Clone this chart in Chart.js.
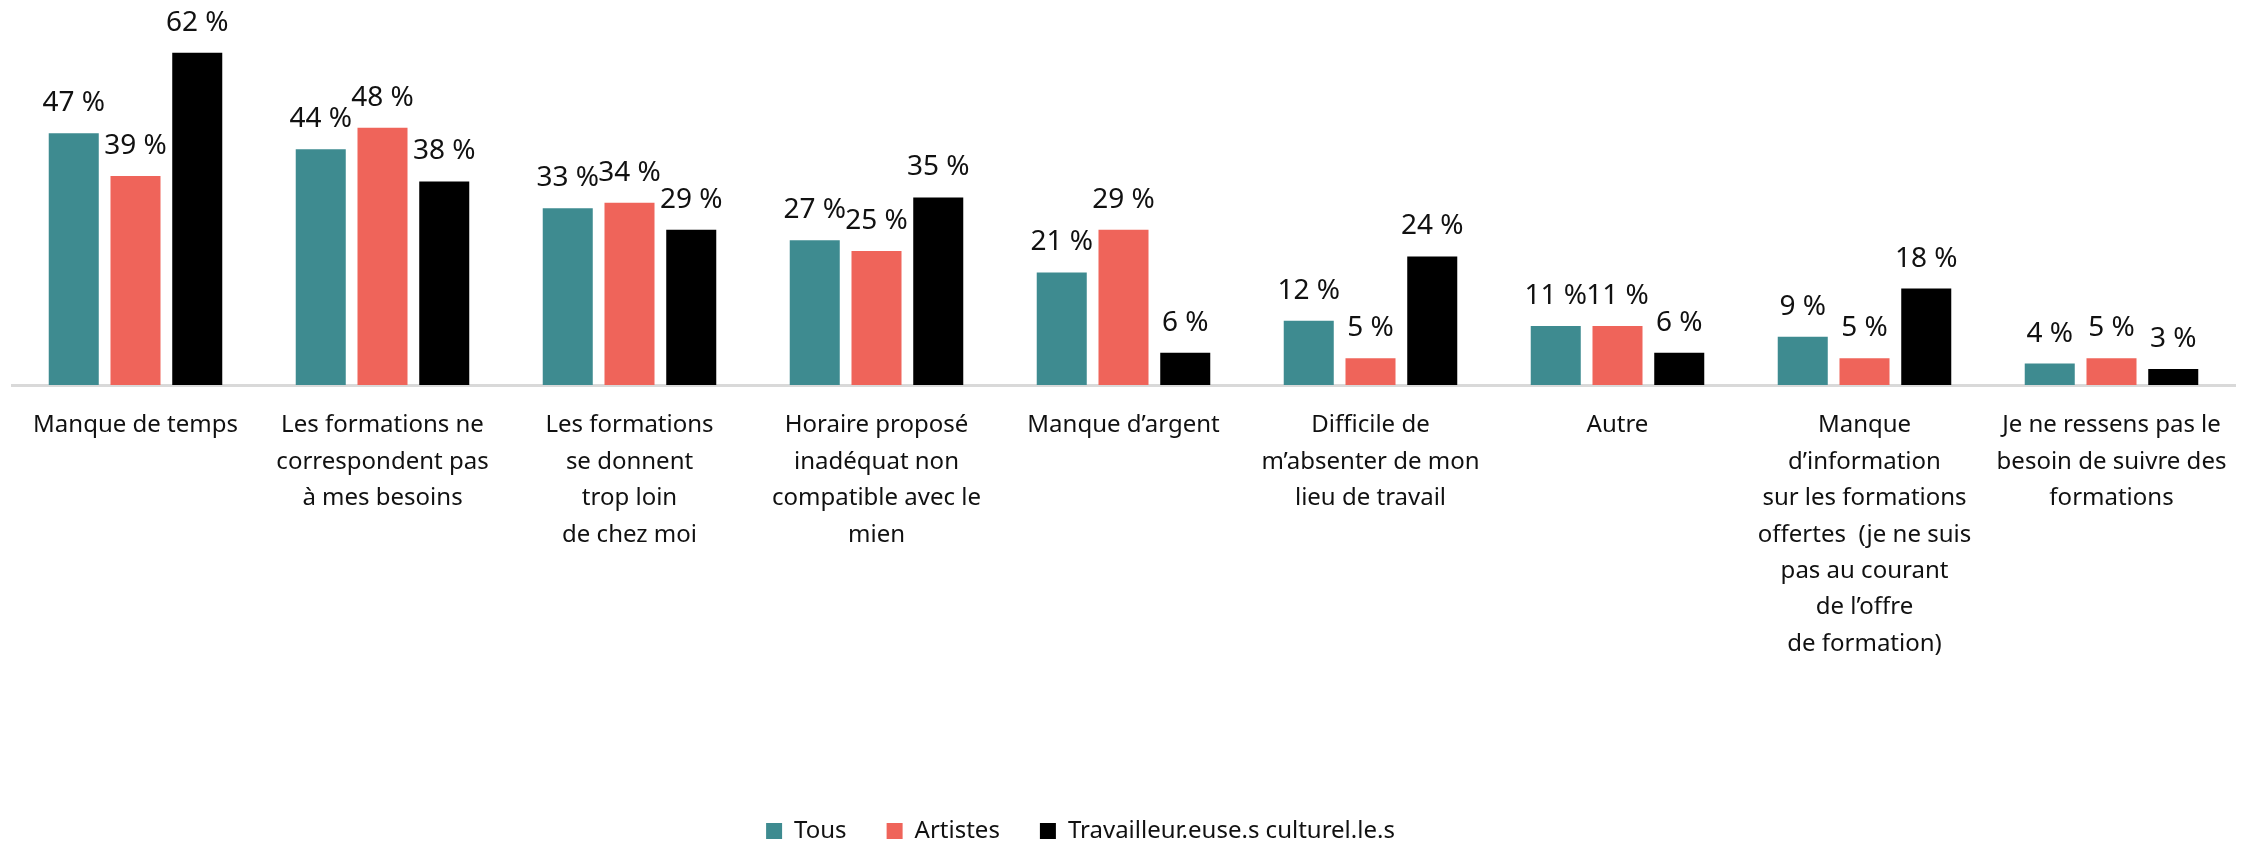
<!DOCTYPE html>
<html lang="fr">
<head>
<meta charset="utf-8">
<title>Obstacles à la formation</title>
<script src="https://cdn.jsdelivr.net/npm/chart.js@4/dist/chart.umd.min.js"></script>
<style>
    html, body { margin: 0; padding: 0; background: #ffffff; }
    #wrap { width: 2259px; height: 843px; }
</style>
</head>
<body>
<div id="wrap"><canvas id="graphique" width="2259" height="843"></canvas></div>
<script>
// categories (une ligne par element du tableau)
var categories = [
    ['Manque de temps'],
    ['Les formations ne', 'correspondent pas', 'à mes besoins'],
    ['Les formations', 'se donnent', 'trop loin', 'de chez moi'],
    ['Horaire proposé', 'inadéquat non', 'compatible avec le', 'mien'],
    ['Manque d\u2019argent'],
    ['Difficile de', 'm\u2019absenter de mon', 'lieu de travail'],
    ['Autre'],
    ['Manque', 'd\u2019information', 'sur les formations', 'offertes  (je ne suis', 'pas au courant', 'de l\u2019offre', 'de formation)'],
    ['Je ne ressens pas le', 'besoin de suivre des', 'formations']
];

var nomsSeries = ['Tous', 'Artistes', 'Travailleur.euse.s culturel.le.s'];

// valeurs en %
var tous = [47, 44, 33, 27, 21, 12, 11, 9, 4];
var artistes = [39, 48, 34, 25, 29, 5, 11, 5, 5];
var travailleurs = [62, 38, 29, 35, 6, 24, 6, 18, 3];

var couleurs = ['#3e8b90', '#ef645a', '#000000'];
var police = "'Noto Sans', sans-serif";

// etiquettes au-dessus des barres
var etiquettes = {
    id: 'etiquettes',
    afterDatasetsDraw: function(chart) {
        var ctx = chart.ctx;
        ctx.save();
        ctx.font = '28px ' + police;
        ctx.fillStyle = '#111111';
        ctx.textAlign = 'center';
        ctx.textBaseline = 'bottom';
        chart.data.datasets.forEach(function(ds, i) {
            var meta = chart.getDatasetMeta(i);
            meta.data.forEach(function(bar, j) {
                ctx.fillText(ds.data[j] + ' %', bar.x, bar.y - 16);
            });
        });
        ctx.restore();
    }
};

// la legende est un peu decalee vers la gauche dans l'original
var decalageLegende = {
    id: 'decalageLegende',
    afterLayout: function(chart) {
        if (chart.legend) {
            chart.legend.left -= 43;
            chart.legend.right -= 43;
        }
    }
};

var ctx = document.getElementById('graphique');
var chart = new Chart(ctx, {
    type: 'bar',
    data: {
        labels: categories,
        datasets: [{
            label: nomsSeries[0],
            backgroundColor: couleurs[0],
            data: tous
        }, {
            label: nomsSeries[1],
            backgroundColor: couleurs[1],
            data: artistes
        }, {
            label: nomsSeries[2],
            backgroundColor: couleurs[2],
            data: travailleurs
        }]
    },
    options: {
        responsive: false,
        animation: false,
        devicePixelRatio: 1,
        categoryPercentage: 0.75,
        barPercentage: 0.81,
        layout: {
            padding: { top: 10, left: 12, right: 24, bottom: -10 }
        },
        plugins: {
            tooltip: { enabled: false },
            legend: {
                position: 'bottom',
                labels: {
                    boxWidth: 16,
                    boxHeight: 16,
                    padding: 40,
                    color: '#111111',
                    font: { family: police, size: 24 }
                }
            }
        },
        scales: {
            x: {
                grid: { display: false, drawTicks: false },
                border: { display: true, color: '#d9d9d9', width: 3 },
                ticks: {
                    autoSkip: false,
                    maxRotation: 0,
                    padding: 22,
                    color: '#111111',
                    font: { family: police, size: 24, lineHeight: 1.52 }
                },
                afterFit: function(scale) {
                    scale.height = 394;
                }
            },
            y: {
                display: false,
                min: 0,
                max: 70
            }
        }
    },
    plugins: [etiquettes, decalageLegende]
});
</script>
</body>
</html>
